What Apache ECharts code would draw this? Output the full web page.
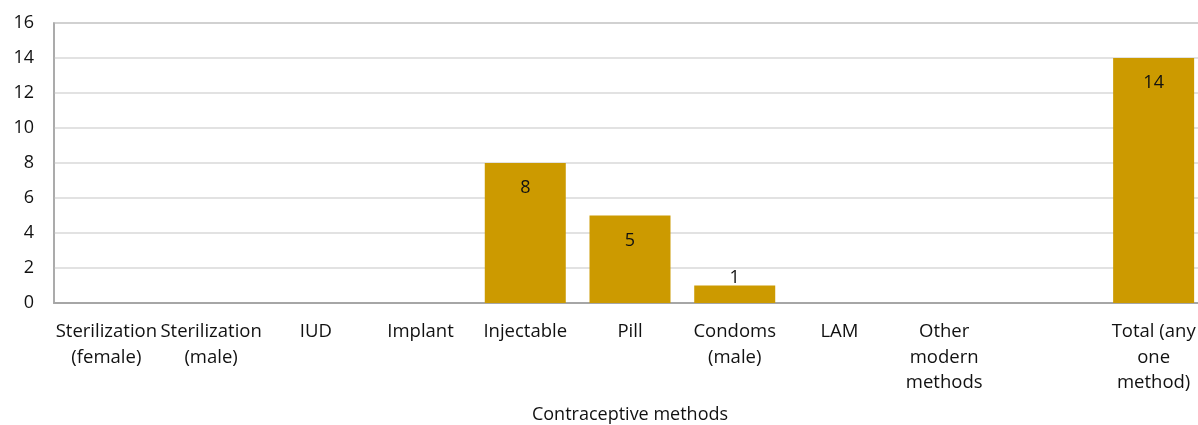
<!DOCTYPE html>
<html>
<head>
<meta charset="utf-8">
<script src="https://cdn.jsdelivr.net/npm/echarts@6/dist/echarts.min.js"></script>
<style>
html,body{margin:0;padding:0;background:#fff;}
#chart{width:1198px;height:425px;}
</style>
</head>
<body>
<div id="chart"></div>
<script>
var categories = [
  'Sterilization\n(female)',
  'Sterilization\n(male)',
  'IUD',
  'Implant',
  'Injectable',
  'Pill',
  'Condoms\n(male)',
  'LAM',
  'Other\nmodern\nmethods',
  '',
  'Total (any\none\nmethod)'
];
var values = [0, 0, 0, 0, 8, 5, 1, 0, 0, 0, 14];
var yTicks = { min: 0, max: 16, interval: 2 };
var axisTitle = 'Contraceptive methods';

var FONT = '"Open Sans", sans-serif';
var TEXT = '#111111';

var seriesData = values.map(function (v) {
  if (v === 0) return { value: v, label: { show: false } };
  if (v < 2) return { value: v, label: { position: 'top', distance: -1 } };
  return v;
});

var chart = echarts.init(document.getElementById('chart'), null, { renderer: 'canvas' });
chart.setOption({
  animation: false,
  backgroundColor: '#fff',
  grid: {
    left: 54, top: 23, width: 1152, height: 280,
    containLabel: false, outerBoundsMode: 'none',
    show: true, borderColor: '#A6A6A6', borderWidth: 1.5, backgroundColor: 'transparent'
  },
  xAxis: {
    type: 'category',
    data: categories,
    name: axisTitle,
    nameLocation: 'middle',
    nameGap: 103,
    nameTextStyle: { fontFamily: FONT, fontSize: 18, color: TEXT },
    axisLine: { show: true, lineStyle: { color: '#A6A6A6', width: 2 } },
    axisTick: { show: false },
    axisLabel: {
      interval: 0, margin: 16, fontFamily: FONT, fontSize: 18.5, color: TEXT,
      lineHeight: 25.5, align: 'center'
    },
    splitLine: { show: false }
  },
  yAxis: {
    type: 'value',
    min: yTicks.min, max: yTicks.max, interval: yTicks.interval,
    axisLine: { show: true, lineStyle: { color: '#A6A6A6', width: 1.5 } },
    axisTick: { show: false },
    axisLabel: { margin: 20, fontFamily: FONT, fontSize: 18, color: TEXT },
    splitLine: { show: true, lineStyle: { color: '#D9D9D9', width: 1.5 } }
  },
  series: [{
    type: 'bar',
    data: seriesData,
    barWidth: 81,
    itemStyle: { color: '#CC9A00' },
    label: {
      show: true, position: 'insideTop', distance: 16,
      fontFamily: FONT, fontSize: 18, color: TEXT
    }
  }]
});
</script>
</body>
</html>
